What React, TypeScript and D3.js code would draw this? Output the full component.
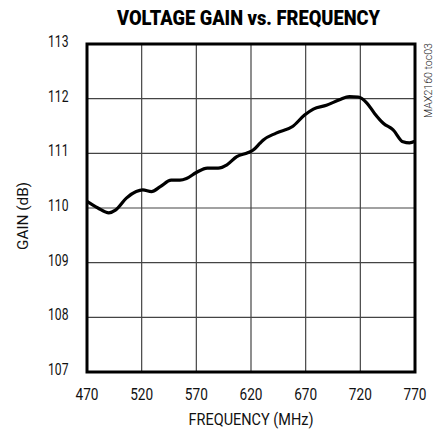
import React from 'react';
import * as d3 from 'd3';

const FREQ = [470, 480, 490, 496, 506, 515, 521, 529, 537, 547, 555, 561, 570, 580, 590, 598, 607, 617, 622, 628, 631, 643, 658, 669, 677, 689, 701, 710, 718, 726, 733, 741, 750, 759, 765, 770];
const GAIN = [110.12, 110.0, 109.91, 109.96, 110.18, 110.30, 110.33, 110.30, 110.39, 110.51, 110.51, 110.54, 110.65, 110.73, 110.73, 110.79, 110.94, 111.01, 111.06, 111.18, 111.24, 111.37, 111.49, 111.70, 111.81, 111.88, 111.98, 112.04, 112.03, 111.92, 111.73, 111.55, 111.43, 111.21, 111.19, 111.22];
const X_TICKS = [470, 520, 570, 620, 670, 720, 770];
const Y_TICKS = [107, 108, 109, 110, 111, 112, 113];

const FONT = 'Roboto, "Liberation Sans", Arial, sans-serif';

function App() {
    const left = 87, right = 415, top = 44, bottom = 372;
    const x = d3.scaleLinear().domain([470, 770]).range([left, right]);
    const y = d3.scaleLinear().domain([107, 113]).range([bottom, top]);
    const pts = FREQ.map((f, i) => [f, GAIN[i]] as [number, number]);
    const line = d3.line<[number, number]>().x(d => x(d[0])).y(d => y(d[1])).curve(d3.curveMonotoneX);

    return (
        <svg width={438} height={434} style={{ position: 'absolute', left: 0, top: 0, background: '#fff' }}>
            <text x={117} y={25} fontFamily={FONT} fontWeight={900} fontSize={20.5}
                textLength={263} lengthAdjust="spacingAndGlyphs">VOLTAGE GAIN vs. FREQUENCY</text>
            {X_TICKS.map(t => (
                <line key={'gx' + t} x1={x(t)} x2={x(t)} y1={top} y2={bottom} stroke="#444" strokeWidth={1.2} />
            ))}
            {Y_TICKS.map(t => (
                <line key={'gy' + t} x1={left} x2={right} y1={y(t)} y2={y(t)} stroke="#444" strokeWidth={1.2} />
            ))}
            <rect x={left} y={top} width={right - left} height={bottom - top} fill="none" stroke="#000" strokeWidth={3} />
            <path d={line(pts) || ''} fill="none" stroke="#000" strokeWidth={3.2} strokeLinejoin="round" />
            {Y_TICKS.map(t => (
                <text key={'ly' + t} x={48} y={y(t) + 3} fontFamily={FONT} fontWeight={400} fontSize={16.5}
                    textLength={20.5} lengthAdjust="spacingAndGlyphs" fill="#111">{t}</text>
            ))}
            {X_TICKS.map(t => (
                <text key={'lx' + t} x={x(t) - 11.5} y={400} fontFamily={FONT} fontWeight={400} fontSize={16.5}
                    textLength={23} lengthAdjust="spacingAndGlyphs" fill="#111">{t}</text>
            ))}
            <text x={188.5} y={425} fontFamily={FONT} fontWeight={400} fontSize={16.5}
                textLength={125} lengthAdjust="spacingAndGlyphs" fill="#111">FREQUENCY (MHz)</text>
            <text transform="translate(28,250) rotate(-90)" fontFamily={FONT} fontWeight={400} fontSize={15.5}
                textLength={68} lengthAdjust="spacingAndGlyphs" fill="#111">GAIN (dB)</text>
            <text transform="translate(432,118) rotate(-90)" fontFamily={FONT} fontWeight={300} fontSize={11.5}
                textLength={75} lengthAdjust="spacingAndGlyphs" fill="#222">MAX2160 toc03</text>
        </svg>
    );
}

export default App;
